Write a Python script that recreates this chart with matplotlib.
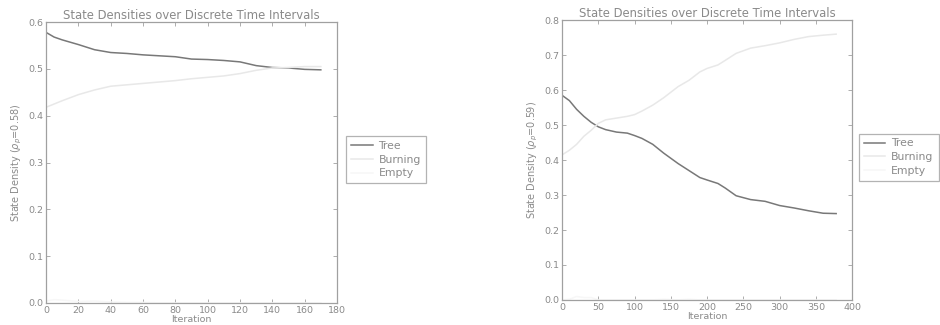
import matplotlib
matplotlib.use("Agg")
import matplotlib.pyplot as plt

# Left run (rho = 0.58)
x1 = [0, 5, 10, 20, 30, 40, 50, 60, 70, 80, 90, 100, 110, 120, 130, 140, 150, 160, 170]
tree1 = [0.578, 0.568, 0.562, 0.552, 0.541, 0.535, 0.533, 0.530, 0.528, 0.526, 0.521, 0.520,
         0.518, 0.515, 0.507, 0.503, 0.502, 0.499, 0.498]
burn1 = [0.418, 0.425, 0.432, 0.445, 0.455, 0.463, 0.466, 0.469, 0.472, 0.475, 0.479, 0.482,
         0.485, 0.490, 0.497, 0.502, 0.503, 0.505, 0.505]
empty1 = [0.004, 0.007, 0.006, 0.003, 0.004, 0.002, 0.001, 0.001, 0.000, 0.000, 0.000, 0.000,
          0.000, 0.000, 0.000, 0.000, 0.000, 0.000, 0.000]

# Right run (rho = 0.59)
x2 = [0, 10, 20, 30, 40, 50, 60, 75, 90, 100, 110, 125, 140, 160, 175, 190, 200, 215, 225,
      240, 260, 280, 300, 320, 340, 360, 378]
tree2 = [0.585, 0.570, 0.545, 0.525, 0.508, 0.495, 0.487, 0.480, 0.477, 0.470, 0.462, 0.445,
         0.420, 0.390, 0.370, 0.350, 0.343, 0.333, 0.320, 0.298, 0.287, 0.282, 0.270, 0.263,
         0.255, 0.248, 0.247]
burn2 = [0.415, 0.428, 0.445, 0.468, 0.485, 0.505, 0.515, 0.520, 0.525, 0.530, 0.540, 0.557,
         0.578, 0.610, 0.628, 0.652, 0.662, 0.672, 0.685, 0.705, 0.720, 0.727, 0.735, 0.745,
         0.753, 0.757, 0.760]
empty2 = [0.000, 0.002, 0.010, 0.007, 0.007, 0.000, 0.000, 0.000, 0.000, 0.000, 0.000, 0.000,
          0.002, 0.000, 0.002, 0.000, 0.000, 0.000, 0.000, 0.000, 0.000, 0.000, 0.000, 0.000,
          0.000, 0.000, 0.000]

title = "State Densities over Discrete Time Intervals"
labels = ["Tree", "Burning", "Empty"]
rhos = ["0.58", "0.59"]

TXT = "#8a8a8a"
SPINE = "#a0a0a0"
colors = ["#787878", "#e8e8e8", "#f7f7f7"]

plt.rcParams["font.family"] = ["DejaVu Sans"]
fig = plt.figure(figsize=(9.4, 3.25), dpi=100)

specs = [
    ([0.049, 0.068, 0.3095, 0.864], x1, [tree1, burn1, empty1], (0, 180), 20, (0, 0.6), rhos[0], 1.02),
    ([0.598, 0.077, 0.3085, 0.861], x2, [tree2, burn2, empty2], (0, 400), 50, (0, 0.8), rhos[1], 1.012),
]

for rect, xs, series, xlim, xstep, ylim, rho, lx in specs:
    ax = fig.add_axes(rect)
    for ys, lab, c in zip(series, labels, colors):
        ax.plot(xs, ys, color=c, lw=1.1, label=lab)
    ax.set_xlim(*xlim)
    ax.set_ylim(*ylim)
    ax.set_xticks(range(xlim[0], xlim[1] + 1, xstep))
    ax.set_yticks([round(v * 0.1, 1) for v in range(int(ylim[1] * 10) + 1)])
    ax.tick_params(direction="in", top=True, right=True, length=3, width=0.6,
                   colors=SPINE, labelcolor=TXT, labelsize=6.8, pad=2)
    for s in ax.spines.values():
        s.set_color(SPINE)
        s.set_linewidth(0.9)
    ax.set_title(title, fontsize=8.4, color=TXT, pad=2)
    ax.set_xlabel("Iteration", fontsize=6.8, color=TXT, labelpad=0)
    ax.set_ylabel(r"State Density ($\rho_p$=" + rho + ")", fontsize=7, color=TXT, labelpad=3)
    leg = ax.legend(loc="center left", bbox_to_anchor=(lx, 0.51), fontsize=7.8,
                    fancybox=False, frameon=True, borderpad=0.45, handlelength=2.0,
                    handletextpad=0.55, borderaxespad=0.3, labelspacing=0.35)
    leg.get_frame().set_edgecolor(SPINE)
    leg.get_frame().set_linewidth(0.9)
    for t in leg.get_texts():
        t.set_color(TXT)

fig.savefig("out.png", dpi=100, facecolor="white")
